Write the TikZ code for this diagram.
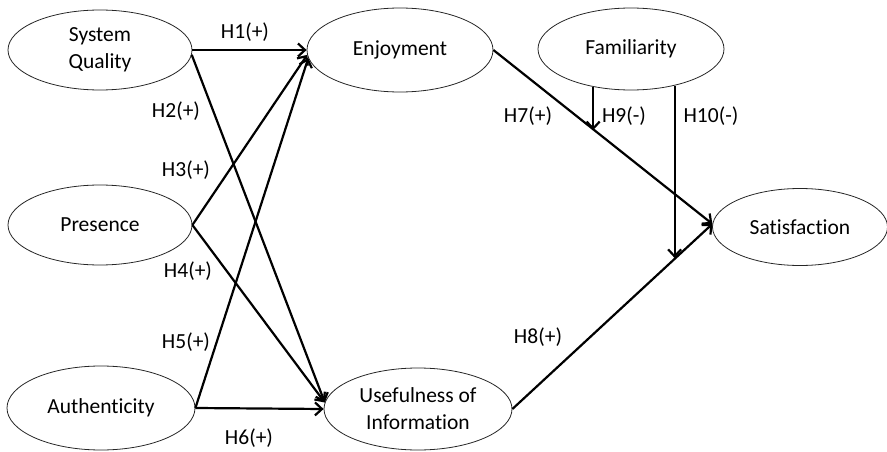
\documentclass[tikz,border=0pt]{standalone}
\usepackage{fontspec}
\setmainfont[Ligatures={NoCommon}]{Carlito}
\usetikzlibrary{shapes.geometric,arrows.meta,calc}
\begin{document}
\begin{tikzpicture}[x=1pt,y=-1pt,
  construct/.style={ellipse,draw=black!85,line width=0.8pt,inner sep=0pt,align=center,
    font=\fontsize{21.5}{27}\selectfont},
  arr/.style={line width=2.2pt,-{Straight Barb[length=7pt,width=13pt]}},
  hyp/.style={font=\fontsize{21.5}{25}\selectfont,inner sep=0pt}]
\useasboundingbox (0,0) rectangle (887,452);
\node[construct,minimum width=184pt,minimum height=80pt] (sq) at (100,50) {System\\Quality};
\node[construct,minimum width=186pt,minimum height=84pt] (enj) at (400,50) {Enjoyment};
\node[construct,minimum width=186pt,minimum height=82pt] (fam) at (631,49) {Familiarity};
\node[construct,minimum width=184pt,minimum height=80pt] (pres) at (100,225) {Presence};
\node[construct,minimum width=188pt,minimum height=84pt] (auth) at (101,408) {Authenticity};
\node[construct,minimum width=188pt,minimum height=82pt] (usef) at (418,409) {Usefulness of\\Information};
\node[construct,minimum width=175pt,minimum height=77pt] (sat) at (800,227) {Satisfaction};

\draw[arr] (sq.east) -- (enj.west);
\draw[arr] (sq.-3) -- (usef.176);
\draw[arr] (pres.east) -- (enj.183);
\draw[arr] (pres.east) -- (usef.176);
\draw[arr] (auth.east) -- (enj.185);
\draw[arr] (auth.east) -- (usef.west);
\draw[arr] (enj.east) -- (sat.178);
\draw[arr] (usef.east) -- (sat.178);
\coordinate (h9e) at ($(enj.east)!0.461!(sat.178)$);
\coordinate (h10e) at ($(usef.east)!0.816!(sat.178)$);
\draw[arr] (fam.225.5) -- (fam.225.5 |- h9e);
\draw[arr] (fam.320.6) -- (fam.320.6 |- h10e);

\node[hyp] (l1) at (245,32) {H1(+)};
\node[hyp] (l2) at (176,111) {H2(+)};
\node[hyp] (l3) at (186,170) {H3(+)};
\node[hyp] (l4) at (188,271) {H4(+)};
\node[hyp] (l5) at (186,342) {H5(+)};
\node[hyp] (l6) at (249,438) {H6(+)};
\node[hyp] (l7) at (528,116) {H7(+)};
\node[hyp] (l9) at (624,116) {H9(-)};
\node[hyp] (l10) at (711,116) {H10(-)};
\node[hyp] (l8) at (538,337) {H8(+)};
\end{tikzpicture}
\end{document}
